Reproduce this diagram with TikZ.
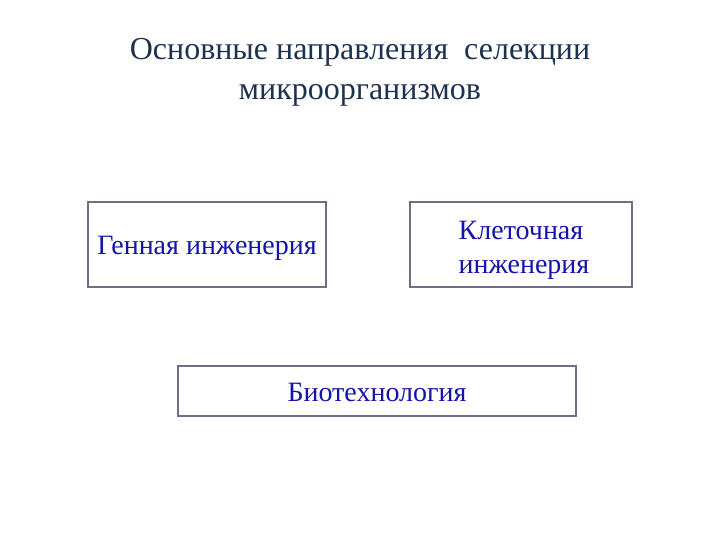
\documentclass[tikz,border=0pt]{standalone}
\usepackage{fontspec}
\setmainfont{Liberation Serif}
\definecolor{titlecol}{RGB}{30,50,80}
\definecolor{boxtext}{RGB}{20,20,170}
\definecolor{boxline}{RGB}{110,110,135}
\begin{document}
\begin{tikzpicture}[x=1pt,y=-1pt,
  box/.style={draw=boxline,line width=2pt,fill=white,inner sep=0pt},
  boxlabel/.style={inner sep=0pt,text=boxtext,font=\fontsize{28}{34}\selectfont,align=center},
  title/.style={text=titlecol,font=\fontsize{32}{40}\selectfont,align=center}]
\useasboundingbox[fill=white] (0,0) rectangle (720,540);
\node[title] (t) at (360,72) {Основные направления\ \ селекции\\микроорганизмов};
\node[box,minimum width=238pt,minimum height=85pt] (g) at (207,244.5) {};
\node[box,minimum width=222pt,minimum height=85pt] (k) at (521,244.5) {};
\node[box,minimum width=398pt,minimum height=50pt] (b) at (377,391) {};
\node[boxlabel] (gl) at ([yshift=-4pt]g.center) {Генная инженерия};
\node[boxlabel] (kl) at ([yshift=-6pt]k.center) {Клеточная\\\hspace*{6pt}инженерия};
\node[boxlabel] (bl) at ([yshift=-1pt]b.center) {Биотехнология};
\end{tikzpicture}
\end{document}
